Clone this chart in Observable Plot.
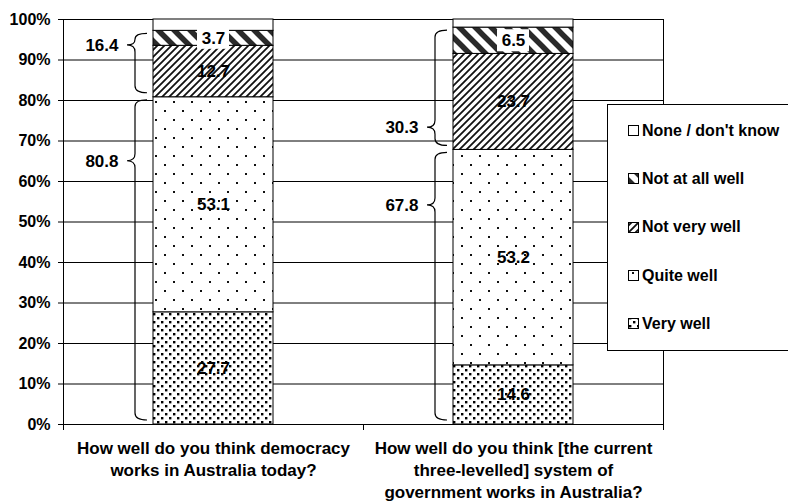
<!DOCTYPE html>
<html><head><meta charset="utf-8">
<script src="https://cdn.jsdelivr.net/npm/d3@7"></script>
<script src="https://cdn.jsdelivr.net/npm/@observablehq/plot@0.6"></script>
<style>
html,body{margin:0;padding:0;background:#fff;}
#chart{position:relative;width:788px;height:503px;overflow:hidden;}
</style></head><body><div id="chart"></div>
<script>
// ---- data ----
const questions = [
  "How well do you think democracy\nworks in Australia today?",
  "How well do you think [the current\nthree-levelled] system of\ngovernment works in Australia?"
];
const categories = ["Very well", "Quite well", "Not very well", "Not at all well", "None / don't know"];
const veryWell     = [27.7, 14.6];
const quiteWell    = [53.1, 53.2];
const notVeryWell  = [12.7, 23.7];
const notAtAllWell = [3.7, 6.5];
const noneDontKnow = [2.8, 2.0];
// braces (grouped totals)
const braceLabels   = ["80.8", "16.4", "67.8", "30.3"];
const braceQuestion = [0, 0, 1, 1];
const braceFrom     = [0, 80.8, 0, 67.8];
const braceTo       = [80.8, 97.2, 67.8, 98.0];
const braceTip      = [65.0, 93.6, 54.1, 73.3];
const yTicks = [0, 10, 20, 30, 40, 50, 60, 70, 80, 90, 100];
const boundaryTicks = [-0.5, 0.5, 1.5];

// ---- derived ----
const series = [veryWell, quiteWell, notVeryWell, notAtAllWell, noneDontKnow];
const patternIds = ["p-very", "p-quite", "p-notvery", "p-notatall", "p-none"];
const rows = [];
questions.forEach((q, qi) => {
  let base = 0;
  series.forEach((s, ci) => {
    rows.push({qi, ci, cat: categories[ci], value: s[qi], y1: base, y2: base + s[qi], mid: base + s[qi] / 2});
    base += s[qi];
  });
});
const braces = braceLabels.map((label, k) => ({label, qi: braceQuestion[k], from: braceFrom[k], to: braceTo[k], tip: braceTip[k]}));
const barHalf = 0.2;
const FONT = "'Liberation Sans', Arial, Helvetica, sans-serif";

function braceMark(index, scales) {
  const g = d3.create("svg:g").attr("fill", "none").attr("stroke", "black").attr("stroke-width", 1.2);
  braces.forEach(b => {
    const xl = scales.x(b.qi - barHalf);
    const xv = xl - 18, xt = xl - 26, xe = xl - 6;
    const top = scales.y(b.to) + 3, bot = scales.y(b.from) - 4, tip = scales.y(b.tip);
    const r1 = Math.min(7, (tip - top) / 2), r2 = Math.min(7, (bot - tip) / 2);
    const p = `M${xe},${top} Q${xv},${top} ${xv},${top + r1} L${xv},${tip - r1} Q${xv},${tip} ${xt},${tip} Q${xv},${tip} ${xv},${tip + r2} L${xv},${bot - r2} Q${xv},${bot} ${xe},${bot}`;
    g.append("path").attr("d", p);
  });
  return g.node();
}

const barMarks = categories.map((c, ci) =>
  Plot.rect(rows.filter(d => d.ci === ci), {
    x1: d => d.qi - barHalf, x2: d => d.qi + barHalf, y1: "y1", y2: "y2",
    fill: `url(#${patternIds[ci]})`, stroke: "black", strokeWidth: 1
  })
);

const svg = Plot.plot({
  width: 788, height: 503,
  marginLeft: 63, marginRight: 125, marginTop: 19, marginBottom: 79,
  x: {type: "linear", domain: [-0.5, 1.5], label: null},
  y: {domain: [0, 100], label: null},
  style: {fontFamily: FONT, fontSize: "16px", color: "black", background: "white", overflow: "visible"},
  marks: [
    Plot.ruleY(yTicks, {stroke: "black", strokeWidth: 1}),
    ...barMarks,
    Plot.rect(rows.filter(d => d.ci === 3), {
      x1: "qi", x2: "qi", y1: "mid", y2: "mid",
      insetLeft: -16, insetRight: -16, insetTop: -11, insetBottom: -11, fill: "white"
    }),
    Plot.text(rows.filter(d => d.ci < 4), {
      x: "qi", y: "mid", text: d => d.value.toFixed(1),
      fontSize: 17, fontWeight: "bold", fill: "black"
    }),
    Plot.ruleX([-0.5, 1.5], {stroke: "black", strokeWidth: 1}),
    Plot.axisY({ticks: yTicks, tickFormat: d => d + "%", tickSize: 5, tickPadding: 8,
      fontSize: 16, fontWeight: "bold", stroke: "black"}),
    Plot.axisX({ticks: boundaryTicks, tickFormat: () => "", tickSize: 6, stroke: "black"}),
    Plot.text(questions, {
      x: (d, i) => i, y: 0, text: d => d, lineAnchor: "top", dy: 14,
      fontSize: 17, fontWeight: "bold", lineHeight: 1.3, fill: "black"
    }),
    braceMark,
    Plot.text(braces, {
      x: d => d.qi - barHalf, y: "tip", text: "label", dx: -35, textAnchor: "end",
      fontSize: 17, fontWeight: "bold", fill: "black"
    })
  ]
});

// ---- patterns ----
const root = d3.select(svg);
const defs = root.insert("defs", ":first-child");
function pattern(id, w, h) {
  const p = defs.append("pattern").attr("id", id).attr("patternUnits", "userSpaceOnUse")
    .attr("width", w).attr("height", h);
  p.append("rect").attr("width", w).attr("height", h).attr("fill", "white");
  return p;
}
const pv = pattern("p-very", 8, 8);
pv.append("rect").attr("x", 1).attr("y", 1).attr("width", 2.4).attr("height", 2.4).attr("fill", "#000");
pv.append("rect").attr("x", 5).attr("y", 5).attr("width", 2.4).attr("height", 2.4).attr("fill", "#000");
const pq = pattern("p-quite", 18, 18);
pq.append("rect").attr("x", 2).attr("y", 2).attr("width", 2).attr("height", 2).attr("fill", "#111");
pq.append("rect").attr("x", 11).attr("y", 11).attr("width", 2).attr("height", 2).attr("fill", "#111");
const pn = pattern("p-notvery", 7, 7);
pn.append("path").attr("d", "M-2,9 L9,-2 M-5.5,5.5 L5.5,-5.5 M1.5,12.5 L12.5,1.5").attr("stroke", "#111").attr("stroke-width", 1.8);
const pa = pattern("p-notatall", 16, 16);
pa.append("path").attr("d", "M-4,-4 L20,20 M-12,4 L4,20 M12,-4 L28,12").attr("stroke", "#2a2a2a").attr("stroke-width", 5.5);
pattern("p-none", 8, 8);

// ---- legend ----
const lg = root.append("g").attr("font-family", FONT).attr("font-weight", "bold").attr("font-size", 16)
  .attr("text-anchor", "start");
lg.append("rect").attr("x", 607.5).attr("y", 104.5).attr("width", 200).attr("height", 246)
  .attr("fill", "white").attr("stroke", "black");
categories.map((c, ci) => ({c, ci})).reverse().forEach(({c, ci}, k) => {
  const cy = 130 + k * 48.3;
  lg.append("rect").attr("x", 628.5).attr("y", Math.round(cy - 5) + 0.5).attr("width", 10).attr("height", 10)
    .attr("fill", `url(#${patternIds[ci]})`).attr("stroke", "black");
  lg.append("text").attr("x", 642).attr("y", cy).attr("dy", "0.36em").attr("text-anchor", "start")
    .attr("fill", "black").text(c);
});

document.getElementById("chart").appendChild(svg);
</script></body></html>
